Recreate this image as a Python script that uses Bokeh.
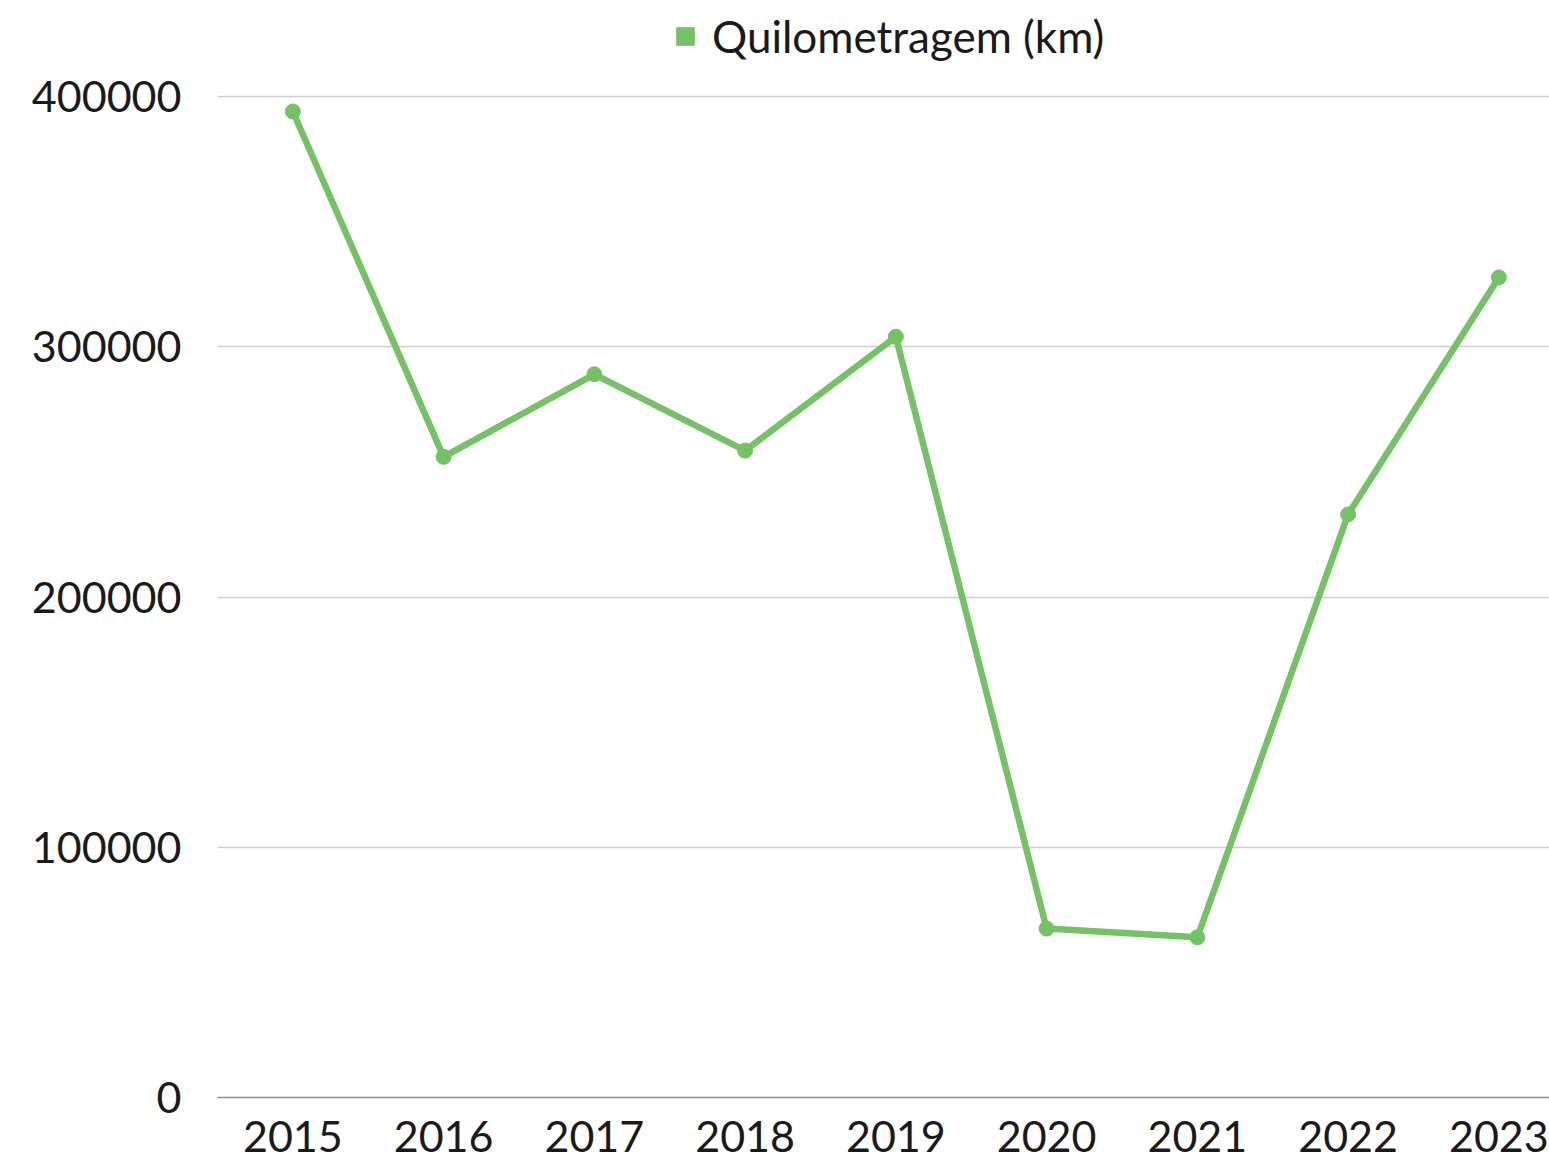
from bokeh.plotting import figure
from bokeh.models import ColumnDataSource, Range1d, FixedTicker, Legend, LegendItem, NumeralTickFormatter
from bokeh.embed import file_html
from bokeh.resources import INLINE

years = ["2015", "2016", "2017", "2018", "2019", "2020", "2021", "2022", "2023"]
km = [394000, 256000, 289000, 258500, 304000, 67500, 64000, 233000, 327700]
series_name = "Quilometragem (km)"
y_ticks = [0, 100000, 200000, 300000, 400000]

FONT = "Lato"
GREEN = "#74C265"

idx = list(range(len(years)))

# frame spans the whole height; 400000 sits at y=96 px, 0 at y=1097 px
p = figure(x_range=Range1d(-0.5, 8.336), y_range=Range1d(0, 438362), width=1549, height=1159,
           output_backend="svg", toolbar_location=None,
           min_border_left=217, min_border_right=0, min_border_top=0, min_border_bottom=62)
p.outline_line_color = None
p.background_fill_color = "white"

src = ColumnDataSource(dict(x=idx, y=km))
line = p.line("x", "y", source=src, line_color=GREEN, line_width=6.5)
pts = p.scatter("x", "y", source=src, size=15, fill_color=GREEN, line_color=GREEN)
# legend swatch renderer (its one shape lies outside the visible range)
dummy = p.quad(left=[0], right=[0.1], bottom=[-3e6], top=[-2e6],
               fill_color=GREEN, line_color=GREEN)

legend = Legend(items=[LegendItem(label=series_name, renderers=[dummy])],
                orientation="horizontal", location=(457, 1035),
                border_line_color=None, background_fill_alpha=0,
                label_text_font=FONT, label_text_font_size="44px", label_text_color="#1a1a1a",
                label_text_baseline="middle",
                glyph_width=22, glyph_height=22, label_standoff=16, padding=0, margin=0)
p.add_layout(legend, "center")

p.yaxis.ticker = FixedTicker(ticks=y_ticks)
p.yaxis.formatter = NumeralTickFormatter(format="0")
p.yaxis.axis_line_color = None
p.yaxis.major_tick_line_color = None
p.yaxis.minor_tick_line_color = None
p.yaxis.major_label_text_font = FONT
p.yaxis.major_label_text_font_size = "43px"
p.yaxis.major_label_text_color = "#1a1a1a"
p.yaxis.major_label_standoff = 30

p.xaxis.ticker = FixedTicker(ticks=idx)
p.xaxis.major_label_overrides = {i: y for i, y in zip(idx, years)}
p.xaxis.axis_line_color = "#8c8c8c"
p.xaxis.axis_line_width = 1.5
p.xaxis.major_tick_line_color = None
p.xaxis.minor_tick_line_color = None
p.xaxis.major_label_text_font = FONT
p.xaxis.major_label_text_font_size = "43px"
p.xaxis.major_label_text_color = "#1a1a1a"
p.xaxis.major_label_standoff = 17

p.xgrid.grid_line_color = None
p.ygrid.grid_line_color = "#cfcfcf"
p.ygrid.grid_line_width = 1.5

open("out.html", "w").write(file_html(p, INLINE))
